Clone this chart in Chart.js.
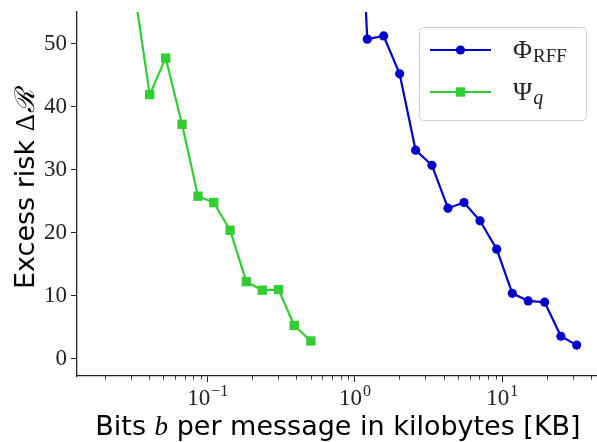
<!DOCTYPE html>
<html>
<head>
<meta charset="utf-8">
<script src="https://cdn.jsdelivr.net/npm/chart.js@4.4.1/dist/chart.umd.min.js"></script>
<style>
  html, body { margin: 0; padding: 0; background: #fff; }
  canvas { display: block; }
</style>
</head>
<body>
<canvas id="grafico" width="597" height="442"></canvas>
<script>
// dati (bit in KB, rischio in eccesso)
const rffBits = [0.94, 1.212, 1.566, 2.01, 2.58, 3.33, 4.28, 5.50, 7.06, 9.17, 11.7, 15.0, 19.4, 25.0, 32.0];
const rffRisk = [105, 50.7, 51.2, 45.2, 33.1, 30.7, 23.9, 24.8, 21.9, 17.4, 10.4, 9.2, 9.0, 3.6, 2.2];

const psiBits = [0.0313, 0.0404, 0.0519, 0.0670, 0.0860, 0.110, 0.142, 0.183, 0.235, 0.303, 0.387, 0.502];
const psiRisk = [59.6, 41.9, 47.7, 37.2, 25.8, 24.8, 20.4, 12.25, 10.9, 11.0, 5.3, 2.85];

const yTicks = [0, 10, 20, 30, 40, 50];
const xMajorTicks = [0.1, 1, 10];

const BLU = '#0000cd';
const VERDE = '#32cd32';
const INK = '#222';

function punti(xs, ys) {
    return xs.map((x, i) => ({ x: x, y: ys[i] }));
}

// disegna un testo fatto di pezzi con font diversi
function scriviPezzi(ctx, pezzi, x, y, align) {
    let tot = 0;
    pezzi.forEach(p => { ctx.font = p.font; p.w = ctx.measureText(p.text).width; tot += p.w + (p.gap || 0); });
    let cx = align === 'center' ? x - tot / 2 : x;
    ctx.textAlign = 'left';
    ctx.textBaseline = 'alphabetic';
    pezzi.forEach(p => {
        ctx.font = p.font;
        ctx.fillText(p.text, cx, y + (p.dy || 0));
        cx += p.w + (p.gap || 0);
    });
}

// niente padding extra dagli assi, l'area resta dove la vogliamo
function fissaAsse(s, lato, misura) {
    s[lato] = misura;
    s.paddingTop = 0; s.paddingBottom = 0; s.paddingLeft = 0; s.paddingRight = 0;
}

const extras = {
    id: 'extras',
    afterDraw(chart) {
        const ctx = chart.ctx;
        const xs = chart.scales.x;
        const area = chart.chartArea;
        ctx.save();

        // tacche minori asse x
        ctx.strokeStyle = INK;
        ctx.lineWidth = 0.9;
        for (let e = -2; e <= 1; e++) {
            for (let m = 2; m <= 9; m++) {
                const v = m * Math.pow(10, e);
                if (v < xs.min || v > xs.max) continue;
                const px = Math.round(xs.getPixelForValue(v)) + 0.5;
                ctx.beginPath();
                ctx.moveTo(px, area.bottom);
                ctx.lineTo(px, area.bottom + 3.5);
                ctx.stroke();
            }
        }

        // etichette decadi 10^n
        ctx.fillStyle = INK;
        xMajorTicks.forEach(v => {
            const esp = Math.round(Math.log10(v));
            const txt = esp < 0 ? '\u2212' + (-esp) : String(esp);
            scriviPezzi(ctx, [
                { text: '10', font: '23px "Liberation Serif"', gap: 1 },
                { text: txt, font: '16px "Liberation Serif"', dy: -9 }
            ], xs.getPixelForValue(v), area.bottom + 29, 'center');
        });

        // titolo asse x
        ctx.fillStyle = '#000';
        scriviPezzi(ctx, [
            { text: 'Bits ', font: '27px "DejaVu Sans"' },
            { text: 'b', font: 'italic 27px "Liberation Serif"' },
            { text: ' per message in kilobytes [KB]', font: '27px "DejaVu Sans"' }
        ], (area.left + area.right) / 2 + 1, 435, 'center');

        // titolo asse y
        ctx.save();
        ctx.translate(34, (area.top + area.bottom) / 2 - 5);
        ctx.rotate(-Math.PI / 2);
        scriviPezzi(ctx, [
            { text: 'Excess risk ', font: '27px "DejaVu Sans"' },
            { text: '\u0394', font: '27px "Liberation Serif"', gap: 1 },
            { text: '\u211B', font: 'italic 27px "DejaVu Serif"' }
        ], 0, 0, 'center');
        ctx.restore();

        // legenda
        const lx = 419.5, ly = 27.5, lw = 167, lh = 93;
        ctx.beginPath();
        ctx.roundRect(lx, ly, lw, lh, 4);
        ctx.fillStyle = 'rgba(255,255,255,0.85)';
        ctx.fill();
        ctx.strokeStyle = '#d0d0d0';
        ctx.lineWidth = 1;
        ctx.stroke();

        const voci = [
            { ds: chart.data.datasets[0], y: 50, sym: '\u03A6', sub: 'RFF', subFont: '19px "Liberation Serif"' },
            { ds: chart.data.datasets[1], y: 92, sym: '\u03A8', sub: 'q', subFont: 'italic 20px "Liberation Serif"' }
        ];
        voci.forEach(v => {
            ctx.strokeStyle = v.ds.borderColor;
            ctx.lineWidth = v.ds.borderWidth;
            ctx.beginPath();
            ctx.moveTo(430, v.y);
            ctx.lineTo(491, v.y);
            ctx.stroke();
            ctx.fillStyle = v.ds.borderColor;
            if (v.ds.pointStyle === 'rect') {
                const s = v.ds.pointRadius * Math.SQRT1_2;
                ctx.fillRect(460.5 - s, v.y - s, 2 * s, 2 * s);
            } else {
                ctx.beginPath();
                ctx.arc(460.5, v.y, v.ds.pointRadius, 0, Math.PI * 2);
                ctx.fill();
            }
            ctx.fillStyle = INK;
            scriviPezzi(ctx, [
                { text: v.sym, font: '26px "Liberation Serif"', gap: 1 },
                { text: v.sub, font: v.subFont, dy: 4 }
            ], 513, v.y + 8, 'left');
        });

        ctx.restore();
    }
};

new Chart(document.getElementById('grafico').getContext('2d'), {
    type: 'line',
    data: {
        datasets: [
            {
                label: 'Phi_RFF',
                data: punti(rffBits, rffRisk),
                borderColor: BLU,
                backgroundColor: BLU,
                borderWidth: 2.2,
                pointStyle: 'circle',
                pointRadius: 4.6,
                pointBorderWidth: 0,
                pointBackgroundColor: BLU,
                tension: 0,
                clip: 0
            },
            {
                label: 'Psi_q',
                data: punti(psiBits, psiRisk),
                borderColor: VERDE,
                backgroundColor: VERDE,
                borderWidth: 2.2,
                pointStyle: 'rect',
                pointRadius: 6.6,
                pointBorderWidth: 0,
                pointBackgroundColor: VERDE,
                tension: 0,
                clip: 0
            }
        ]
    },
    options: {
        responsive: false,
        animation: false,
        devicePixelRatio: 1,
        layout: { autoPadding: false, padding: { top: 12, left: 0, right: 0, bottom: 0 } },
        plugins: { legend: { display: false }, tooltip: { enabled: false } },
        scales: {
            x: {
                type: 'logarithmic',
                min: 0.01297,
                max: 43.96,
                afterBuildTicks: s => { s.ticks = xMajorTicks.map(v => ({ value: v })); },
                afterFit: s => fissaAsse(s, 'height', 66),
                grid: { display: true, drawOnChartArea: false, drawTicks: true, tickLength: 6, tickColor: INK, tickWidth: 1 },
                border: { display: true, color: INK, width: 1.3 },
                ticks: { display: false }
            },
            y: {
                type: 'linear',
                min: -2.7,
                max: 55,
                afterBuildTicks: s => { s.ticks = yTicks.map(v => ({ value: v })); },
                afterFit: s => fissaAsse(s, 'width', 77),
                grid: { display: true, drawOnChartArea: false, drawTicks: true, tickLength: 6, tickColor: INK, tickWidth: 1 },
                border: { display: true, color: INK, width: 1.3 },
                ticks: { color: INK, padding: 4, font: { family: 'Liberation Serif', size: 23 } }
            }
        }
    },
    plugins: [extras]
});
</script>
</body>
</html>
